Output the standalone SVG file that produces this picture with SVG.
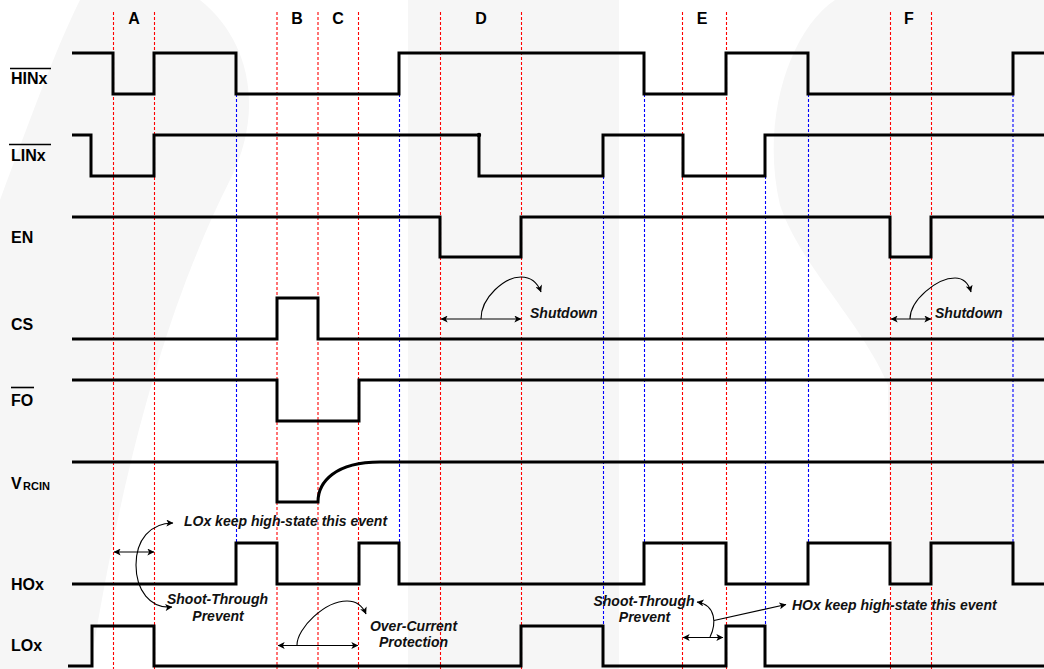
<svg xmlns="http://www.w3.org/2000/svg" width="1044" height="669" viewBox="0 0 1044 669">
<style>
.wave{fill:none;stroke:#000;stroke-width:3;stroke-linejoin:miter;stroke-linecap:butt}
.red{stroke:#ff0000;stroke-width:1.1;stroke-dasharray:3,2;fill:none}
.blue{stroke:#0000ff;stroke-width:1.1;stroke-dasharray:3,2;fill:none}
.lbl{font-family:"Liberation Sans",Arial,sans-serif;font-weight:bold;font-size:16px;fill:#000}
.sub{font-family:"Liberation Sans",Arial,sans-serif;font-weight:bold;font-size:11px;fill:#000}
.ann{font-family:"Liberation Sans",Arial,sans-serif;font-weight:bold;font-style:italic;font-size:14px;fill:#111}
.ov{stroke:#000;stroke-width:1.6}
.conn{fill:none;stroke:#000;stroke-width:1.1}
.wm{fill:#f6f6f6;stroke:none}
</style>
<defs>
<marker id="ah" viewBox="0 0 10 10" refX="9.5" refY="5" markerWidth="9" markerHeight="7" markerUnits="userSpaceOnUse" orient="auto-start-reverse">
<path d="M0,0 L10,5 L0,10 L2.5,5 Z" fill="#000"/>
</marker>
</defs>
<rect x="0" y="0" width="1044" height="669" fill="#fff"/>
<g id="watermark">
<path class="wm" d="M80,0 L200,0 C250,40 265,110 230,180 C180,280 130,420 90,669 L0,669 L0,200 C30,120 55,50 80,0 Z"/>
<rect class="wm" x="408" y="0" width="211" height="669"/>
<path class="wm" d="M835,0 C790,30 760,120 780,205 C800,265 860,320 888,385 L892,669 L1044,669 L1044,0 Z"/>
</g>
<g id="guides">
<line class="red" x1="113.5" y1="12" x2="113.5" y2="669"/>
<line class="red" x1="154.5" y1="12" x2="154.5" y2="669"/>
<line class="red" x1="277" y1="12" x2="277" y2="669"/>
<line class="red" x1="318" y1="12" x2="318" y2="669"/>
<line class="red" x1="358.5" y1="12" x2="358.5" y2="669"/>
<line class="red" x1="440.5" y1="12" x2="440.5" y2="669"/>
<line class="red" x1="521.5" y1="12" x2="521.5" y2="669"/>
<line class="red" x1="682.5" y1="12" x2="682.5" y2="669"/>
<line class="red" x1="726.5" y1="12" x2="726.5" y2="669"/>
<line class="red" x1="890.5" y1="12" x2="890.5" y2="669"/>
<line class="red" x1="931.5" y1="12" x2="931.5" y2="669"/>
<line class="blue" x1="236.5" y1="94" x2="236.5" y2="543"/>
<line class="blue" x1="399.5" y1="94" x2="399.5" y2="543"/>
<line class="blue" x1="603.5" y1="176" x2="603.5" y2="626"/>
<line class="blue" x1="644.5" y1="94" x2="644.5" y2="543"/>
<line class="blue" x1="765.5" y1="176" x2="765.5" y2="626"/>
<line class="blue" x1="808.5" y1="94" x2="808.5" y2="543"/>
<line class="blue" x1="1013" y1="94" x2="1013" y2="543"/>
</g>
<g id="phase-labels" class="lbl">
<text x="134" y="24" text-anchor="middle">A</text>
<text x="297" y="24" text-anchor="middle">B</text>
<text x="338" y="24" text-anchor="middle">C</text>
<text x="481" y="24" text-anchor="middle">D</text>
<text x="702" y="24" text-anchor="middle">E</text>
<text x="909" y="24" text-anchor="middle">F</text>
</g>
<g id="HINx">
<text class="lbl" x="11" y="84">HINx</text>
<line class="ov" x1="10" y1="68.5" x2="51" y2="68.5"/>
<path class="wave" d="M72,53 H113 V94 H154 V53 H236 V94 H399 V53 H644 V94 H726 V53 H808 V94 H1013 V53 H1044"/>
</g>
<g id="LINx">
<text class="lbl" x="11" y="161">LINx</text>
<line class="ov" x1="9" y1="144.5" x2="51" y2="144.5"/>
<path class="wave" d="M72,135 H91 V176 H154 V135 H479 V176 H603 V135 H683 V176 H765 V135 H1044"/>
<circle cx="479" cy="135" r="2.2" fill="#000"/>
</g>
<g id="EN">
<text class="lbl" x="11" y="243">EN</text>
<path class="wave" d="M72,217 H440 V257 H521 V217 H890 V257 H931 V217 H1044"/>
</g>
<g id="CS">
<text class="lbl" x="11" y="330">CS</text>
<path class="wave" d="M72,339 H277 V298 H318 V339 H1044"/>
</g>
<g id="FO">
<text class="lbl" x="11" y="406">FO</text>
<line class="ov" x1="11" y1="387.5" x2="34" y2="387.5"/>
<path class="wave" d="M72,380 H277 V421 H359 V380 H1044"/>
</g>
<g id="VRCIN">
<text class="lbl" x="11" y="489">V</text><text class="sub" x="23" y="490">RCIN</text>
<path class="wave" d="M72,462 H277 V502 H318 C318,482 335,462 380,462 H1044"/>
</g>
<g id="HOx">
<text class="lbl" x="11" y="590">HOx</text>
<path class="wave" d="M72,584 H236 V543 H277 V584 H359 V543 H399 V584 H644 V543 H726 V584 H808 V543 H890 V584 H931 V543 H1013 V584 H1044"/>
</g>
<g id="LOx">
<text class="lbl" x="11" y="651">LOx</text>
<path class="wave" d="M68,666 H92 V626 H154 V666 H521 V626 H603 V666 H726 V626 H765 V666 H1044"/>
</g>
<g id="connectors">
<line class="conn" x1="441" y1="319" x2="521" y2="319" marker-start="url(#ah)" marker-end="url(#ah)"/>
<path class="conn" d="M481,319 C481,297 505,277 521,277 C532,277 538,284 541,292" marker-end="url(#ah)"/>
<line class="conn" x1="891" y1="319" x2="931" y2="319" marker-start="url(#ah)" marker-end="url(#ah)"/>
<path class="conn" d="M910,319 C910,300 937,278 955,278 C964,278 969,285 971,292" marker-end="url(#ah)"/>
<line class="conn" x1="114" y1="552" x2="154" y2="552" marker-start="url(#ah)" marker-end="url(#ah)"/>
<path class="conn" d="M173,523 C150,523 136,540 136,565 C136,590 150,609 172,607" marker-start="url(#ah)" marker-end="url(#ah)"/>
<line class="conn" x1="278" y1="645.5" x2="358" y2="645.5" marker-start="url(#ah)" marker-end="url(#ah)"/>
<path class="conn" d="M297,645 C297,628 325,601 347,601 C358,601 363,607 366,614" marker-end="url(#ah)"/>
<line class="conn" x1="683" y1="637.5" x2="723" y2="637.5" marker-start="url(#ah)" marker-end="url(#ah)"/>
<path class="conn" d="M710,637 C716,625 717,605 697,602" marker-end="url(#ah)"/>
<line class="conn" x1="714" y1="620.5" x2="786" y2="604.5" marker-end="url(#ah)"/>
</g>
<g id="annotations" class="ann">
<text x="530" y="318">Shutdown</text>
<text x="935" y="318">Shutdown</text>
<text x="184" y="526">LOx keep high-state this event</text>
<text x="217.5" y="604" text-anchor="middle">Shoot-Through</text>
<text x="218" y="621" text-anchor="middle">Prevent</text>
<text x="413.5" y="631" text-anchor="middle">Over-Current</text>
<text x="413.5" y="647" text-anchor="middle">Protection</text>
<text x="644" y="606" text-anchor="middle">Shoot-Through</text>
<text x="644.5" y="622" text-anchor="middle">Prevent</text>
<text x="792" y="610">HOx keep high-state this event</text>
</g>
</svg>
